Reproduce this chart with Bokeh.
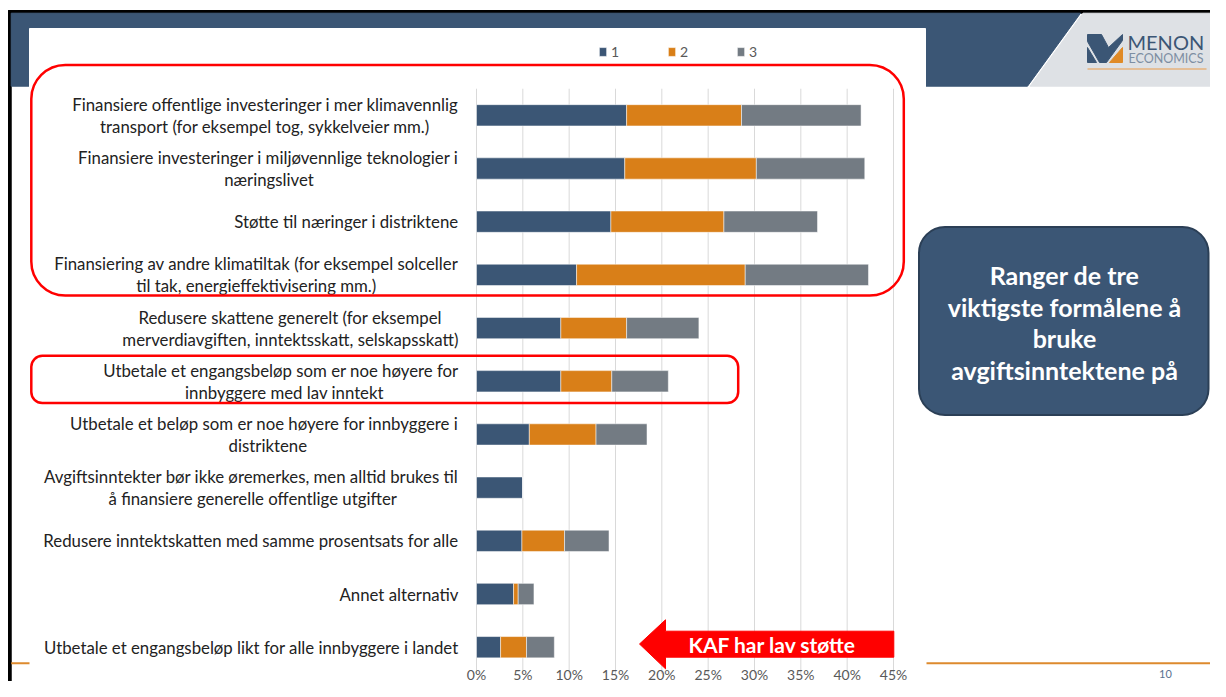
from bokeh.plotting import figure
from bokeh.models import Range1d, ColumnDataSource, Legend, LegendItem
from bokeh.embed import file_html
from bokeh.resources import INLINE
from bokeh.core.properties import value

# ---------------- data ----------------
categories = [
    "Finansiere offentlige investeringer i mer klimavennlig\ntransport (for eksempel tog, sykkelveier mm.)",
    "Finansiere investeringer i miljøvennlige teknologier i\nnæringslivet",
    "Støtte til næringer i distriktene",
    "Finansiering av andre klimatiltak (for eksempel solceller\ntil tak, energieffektivisering mm.)",
    "Redusere skattene generelt (for eksempel\nmerverdiavgiften, inntektsskatt, selskapsskatt)",
    "Utbetale et engangsbeløp som er noe høyere for\ninnbyggere med lav inntekt",
    "Utbetale et beløp som er noe høyere for innbyggere i\ndistriktene",
    "Avgiftsinntekter bør ikke øremerkes, men alltid brukes til\nå finansiere generelle offentlige utgifter",
    "Redusere inntektskatten med samme prosentsats for alle",
    "Annet alternativ",
    "Utbetale et engangsbeløp likt for alle innbyggere i landet",
]
rank1 = [16.2, 16.0, 14.5, 10.8, 9.1, 9.1, 5.7, 5.0, 4.9, 4.0, 2.6]
rank2 = [12.4, 14.2, 12.2, 18.2, 7.1, 5.5, 7.2, 0.0, 4.6, 0.5, 2.8]
rank3 = [12.9, 11.7, 10.1, 13.3, 7.8, 6.1, 5.5, 0.0, 4.8, 1.7, 3.0]
series_names = ["1", "2", "3"]
x_ticks = [0, 5, 10, 15, 20, 25, 30, 35, 40, 45]
x_tick_labels = ["0%", "5%", "10%", "15%", "20%", "25%", "30%", "35%", "40%", "45%"]
box_text = "Ranger de tre\nviktigste formålene å\nbruke\navgiftsinntektene på"
arrow_text = "KAF har lav støtte"
page_number = "10"

# ---------------- layout (reference pixel geometry) ----------------
W, H = 1210, 681
OFF = 0
PX_X0, PX_X45 = 476.0, 893.0        # pixel of 0% and 45%
PX_YTOP, PX_YBOT = 114.8, 646.7     # pixel centres of first / last bar
n = len(categories)
ppu_x = (PX_X45 - PX_X0) / 45.0
ppu_y = (PX_YBOT - PX_YTOP) / (n - 1)
x_start = (OFF - PX_X0) / ppu_x
x_end = (OFF + W - PX_X0) / ppu_x
y_start = -(OFF + H - PX_YBOT) / ppu_y
y_end = (PX_YBOT - OFF) / ppu_y

BLUE = "#3b5675"
ORANGE = "#d97f18"
GREY = "#737b83"
RED = "#ff0000"
FONT = "Lato"

p = figure(width=W, height=H, output_backend="svg", toolbar_location=None,
           x_axis_location=None, y_axis_location=None, title=None,
           x_range=Range1d(x_start, x_end), y_range=Range1d(y_start, y_end),
           min_border=0)
p.extra_x_ranges = {"px": Range1d(OFF, OFF + W)}
p.extra_y_ranges = {"px": Range1d(OFF + H, OFF)}
p.outline_line_color = None
p.background_fill_color = "white"
p.border_fill_color = "white"
p.grid.visible = False

PX = dict(x_range_name="px", y_range_name="px")

# ---------------- slide decoration ----------------
p.quad(left=[8], right=[1226], top=[10], bottom=[12.7], color="black", **PX)
p.quad(left=[8], right=[10.7], top=[10], bottom=[700], color="black", **PX)
p.patch(x=[10.7, 1080, 1027, 10.7], y=[12.7, 12.7, 85.7, 85.7], color=BLUE, **PX)
p.patch(x=[1082.5, 1230, 1230, 1029.5], y=[12.7, 12.7, 85.7, 85.7], color="#dee1e5", **PX)
p.quad(left=[29], right=[925], top=[28], bottom=[90], color="white", **PX)
# logo
LX = 1087
p.patch(x=[LX, LX + 14, LX + 21, LX + 35, LX + 35, LX + 19, LX + 12, LX],
        y=[34, 34, 47, 34, 40, 62, 62, 41], color=BLUE, **PX)
p.patch(x=[LX, LX, LX + 9], y=[47, 62, 62], color=BLUE, **PX)
p.patch(x=[LX + 22, LX + 35, LX + 35], y=[62, 62, 47], color="#e08a26", **PX)
p.text(x=[LX + 40], y=[41], text=["MENON"], text_font=value(FONT), text_font_size="20px",
       text_color=BLUE, text_align="left", text_baseline="middle", **PX)
p.text(x=[LX + 41], y=[58], text=["ECONOMICS"], text_font=value(FONT), text_font_size="12.5px",
       text_color="#7d8ea2", text_align="left", text_baseline="middle", **PX)
p.segment(x0=[LX], x1=[1206], y0=[68.5], y1=[68.5], line_color="#e6b27c", line_width=1.5, **PX)
p.segment(x0=[10.7, 926], x1=[29, 1230], y0=[662.7, 662.7], y1=[662.7, 662.7],
          line_color="#dd8a2e", line_width=2, **PX)
p.text(x=[1165], y=[673], text=[page_number], text_font=value(FONT), text_font_size="11px",
       text_color="#5a7290", text_align="center", text_baseline="middle", **PX)

# ---------------- chart ----------------
ys = [n - 1 - i for i in range(n)]
p.segment(x0=x_ticks, x1=x_ticks, y0=-0.5, y1=n - 0.5, line_color="#d9d9d9", line_width=1)

src = ColumnDataSource(dict(y=ys, s1=rank1, s2=rank2, s3=rank3))
renderers = p.hbar_stack(["s1", "s2", "s3"], y="y", height=0.4, color=[BLUE, ORANGE, GREY],
                         line_color="white", line_width=0.5, source=src)

p.text(x=x_ticks, y=[673.5] * len(x_ticks), text=x_tick_labels, x_range_name="default",
       y_range_name="px", text_font=value(FONT), text_font_size="14px", text_color="#595959",
       text_align="center", text_baseline="middle")

# category labels (multi-line: lines centred inside a right-aligned block)
WID = {}
for ch in "ijl": WID[ch] = 0.24
for ch in "ft": WID[ch] = 0.33
WID["r"] = 0.36; WID["s"] = 0.42; WID["c"] = 0.46; WID["z"] = 0.45
for ch in "mæ": WID[ch] = 0.82
WID["w"] = 0.76
for ch in " .,()": WID[ch] = 0.25


def est_w(s, size):
    return sum(WID.get(c, 0.65 if c.isupper() else 0.53) for c in s) * size


FS = 16.8
LABEL_RIGHT = 458
LINE_H = 22
rx, ry, rt, ro = [], [], [], []
cx, cy, ct, co = [], [], [], []
for i, cat in enumerate(categories):
    lines = cat.split("\n")
    widths = [est_w(l, FS) for l in lines]
    k = widths.index(max(widths))
    centre = LABEL_RIGHT - widths[k] / 2
    for j, line in enumerate(lines):
        off = (j - (len(lines) - 1) / 2) * LINE_H
        if j == k:
            rx.append(LABEL_RIGHT); ry.append(ys[i]); rt.append(line); ro.append(off)
        else:
            cx.append(centre); cy.append(ys[i]); ct.append(line); co.append(off)

p.text(x="x", y="y", text="t", y_offset="o", source=ColumnDataSource(dict(x=rx, y=ry, t=rt, o=ro)),
       x_range_name="px", text_font=value(FONT), text_font_size=f"{FS}px", text_color="#222222",
       text_align="right", text_baseline="middle")
p.text(x="x", y="y", text="t", y_offset="o", source=ColumnDataSource(dict(x=cx, y=cy, t=ct, o=co)),
       x_range_name="px", text_font=value(FONT), text_font_size=f"{FS}px", text_color="#222222",
       text_align="center", text_baseline="middle")

legend = Legend(items=[LegendItem(label=nm, renderers=[r]) for nm, r in zip(series_names, renderers)],
                location=(598, H - 50 - 10), orientation="horizontal", glyph_width=9, glyph_height=11,
                label_standoff=4, spacing=36, padding=0, margin=0, border_line_color=None,
                background_fill_alpha=0, label_text_font=FONT, label_text_font_size="14px",
                label_text_color="#595959")
p.add_layout(legend)

# ---------------- highlights ----------------
p.quad(left=[30.8], right=[903.3], top=[64.4], bottom=[295], fill_color=None, line_color=RED,
       line_width=2.5, border_radius=34, **PX)
p.quad(left=[30.8], right=[737.7], top=[355.3], bottom=[402.5], fill_color=None, line_color=RED,
       line_width=2.5, border_radius=11, **PX)

p.patch(x=[639, 665, 665, 893.3, 893.3, 665, 665], y=[643.5, 619.3, 630.7, 630.7, 656.7, 656.7, 668.3],
        color=RED, **PX)
p.text(x=[772], y=[644], text=[arrow_text], text_font=value(FONT), text_font_size="21px",
       text_font_style="bold", text_color="white", text_align="center", text_baseline="middle", **PX)

p.quad(left=[918.5], right=[1208], top=[226.5], bottom=[414.5], fill_color=BLUE, line_color="#2b3f56",
       line_width=2, border_radius=26, **PX)
p.text(x=[1064], y=[322], text=[box_text], text_font=value(FONT), text_font_size="25px",
       text_font_style="bold", text_color="white", text_align="center", text_baseline="middle",
       text_line_height=1.065, **PX)

open("out.html", "w").write(file_html(p, INLINE))
